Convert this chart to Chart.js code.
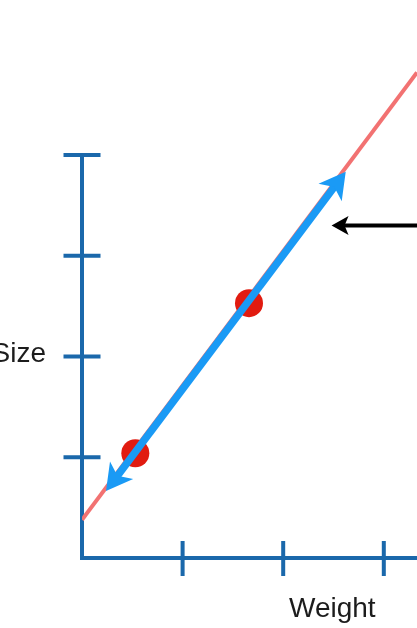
<!DOCTYPE html>
<html>
<head>
<meta charset="utf-8">
<script src="https://cdn.jsdelivr.net/npm/chart.js@4/dist/chart.umd.min.js"></script>
<style>
  html, body { margin: 0; padding: 0; background: #fff; overflow: hidden; }
  #wrap { width: 417px; height: 628px; position: relative; }
  #chart { display: block; }
</style>
</head>
<body>
<div id="wrap"><canvas id="chart"></canvas></div>
<script>
// --- DATA ---
const xTicks = [1, 2, 3];
const yTicks = [1, 2, 3, 4];
const xLabel = 'Weight';
const yLabel = 'Size';

// fitted line (salmon)
const fitX = [0, 3.33];
const fitY = [0.38, 4.82];

// the two samples (red dots)
const sampleX = [0.53, 1.66];
const sampleY = [1.04, 2.53];

// double arrow along the line (shaft ends)
const spanX = [0.34, 2.52];
const spanY = [0.80, 3.70];

// black pointer arrow (shaft ends, tip on the left)
const pointerX = [3.5, 2.59];
const pointerY = [3.30, 3.30];

const AXIS_BLUE = '#1a68ab';
const ARROW_BLUE = '#1a9af5';

const toPts = (xs, ys) => xs.map((x, i) => ({ x: x, y: ys[i] }));

// draws a swept arrowhead whose notch sits at (bx,by), pointing away from (ax,ay)
function arrowHead(ctx, ax, ay, bx, by, len, half, notch, color) {
    const dx = bx - ax, dy = by - ay;
    const d = Math.hypot(dx, dy);
    const ux = dx / d, uy = dy / d;
    const px = -uy, py = ux;
    const tipX = bx + ux * notch, tipY = by + uy * notch;
    const baseX = tipX - ux * len, baseY = tipY - uy * len;
    ctx.beginPath();
    ctx.moveTo(tipX, tipY);
    ctx.lineTo(baseX + px * half, baseY + py * half);
    ctx.lineTo(bx - ux * 2, by - uy * 2);
    ctx.lineTo(baseX - px * half, baseY - py * half);
    ctx.closePath();
    ctx.fillStyle = color;
    ctx.fill();
}

const decorPlugin = {
    id: 'decor',
    beforeDatasetsDraw(chart) {
        const { ctx, scales: { x, y } } = chart;
        const x0 = x.getPixelForValue(0), y0 = y.getPixelForValue(0);
        ctx.save();
        ctx.strokeStyle = AXIS_BLUE;
        ctx.lineWidth = 4;
        ctx.lineJoin = 'miter';
        ctx.beginPath();
        ctx.moveTo(x0, y.getPixelForValue(yTicks[yTicks.length - 1]));
        ctx.lineTo(x0, y0);
        ctx.lineTo(chart.width, y0);
        ctx.stroke();
        ctx.beginPath();
        yTicks.forEach(v => {
            const py = y.getPixelForValue(v);
            ctx.moveTo(x0 - 18.5, py); ctx.lineTo(x0 + 18.5, py);
        });
        xTicks.forEach(v => {
            const px = x.getPixelForValue(v);
            ctx.moveTo(px, y0 - 17); ctx.lineTo(px, y0 + 18);
        });
        ctx.stroke();

        ctx.fillStyle = '#1c1c1c';
        ctx.font = '28px "Liberation Sans", Arial, sans-serif';
        ctx.textBaseline = 'alphabetic';
        ctx.textAlign = 'right';
        ctx.fillText(yLabel, 46, y.getPixelForValue(2) + 5);
        ctx.textAlign = 'left';
        ctx.fillText(xLabel, 289, y0 + 59);
        ctx.restore();
    },
    afterDatasetsDraw(chart) {
        const { ctx } = chart;
        const span = chart.getDatasetMeta(2).data;
        const ptr = chart.getDatasetMeta(3).data;
        ctx.save();
        arrowHead(ctx, span[1].x, span[1].y, span[0].x, span[0].y, 26, 14.5, 17, ARROW_BLUE);
        arrowHead(ctx, span[0].x, span[0].y, span[1].x, span[1].y, 26, 14.5, 17, ARROW_BLUE);
        arrowHead(ctx, ptr[0].x, ptr[0].y, ptr[1].x, ptr[1].y, 17, 9.5, 11, '#000');
        ctx.restore();
    }
};

new Chart(document.getElementById('chart'), {
    type: 'scatter',
    data: {
        datasets: [
            { data: toPts(fitX, fitY), showLine: true, borderColor: '#f27272', borderWidth: 4, pointRadius: 0, order: 3 },
            { data: toPts(sampleX, sampleY), showLine: false, pointRadius: 14, pointBackgroundColor: '#e11b10', pointBorderWidth: 0, order: 2 },
            { data: toPts(spanX, spanY), showLine: true, borderColor: ARROW_BLUE, borderWidth: 7.5, borderCapStyle: 'butt', pointRadius: 0, order: 1 },
            { data: toPts(pointerX, pointerY), showLine: true, borderColor: '#000', borderWidth: 4, borderCapStyle: 'butt', pointRadius: 0, order: 0, clip: false }
        ]
    },
    options: {
        responsive: true, maintainAspectRatio: false, animation: false,
        layout: { autoPadding: false, padding: { left: 82, right: 0, top: 0, bottom: 70 } },
        plugins: { legend: { display: false }, tooltip: { enabled: false } },
        scales: {
            x: { type: 'linear', min: 0, max: 3.33, display: false },
            y: { type: 'linear', min: 0, max: 5.54, display: false }
        }
    },
    plugins: [decorPlugin]
});
</script>
</body>
</html>
